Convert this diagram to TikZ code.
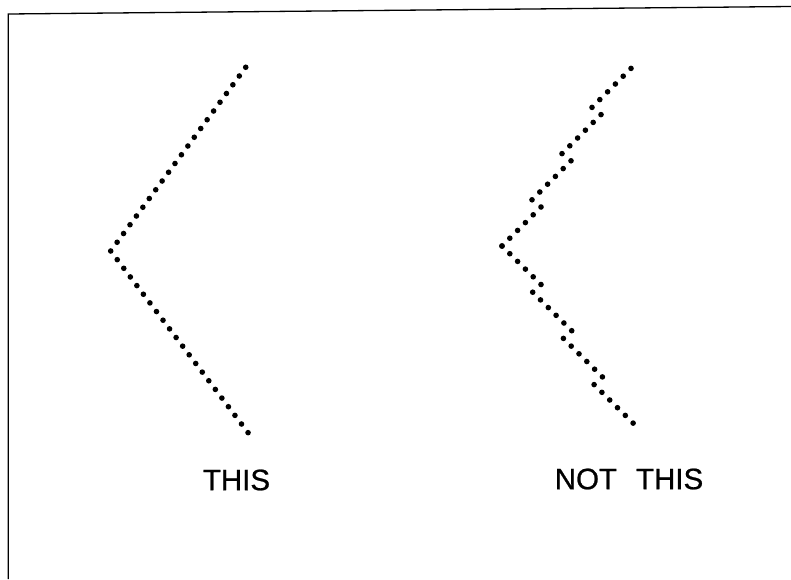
\documentclass[tikz,border=0pt]{standalone}
\usepackage{fontspec}
\setmainfont{Liberation Sans}
\newfontfamily\labelfont[FakeBold=0.8]{Liberation Sans}
\begin{document}
\begin{tikzpicture}[x=1pt,y=-1pt]
		\useasboundingbox (0,0) rectangle (791,579);
		\draw[line width=1.3pt] (8.3,579) -- (8.3,14) -- (791,6.5);
		% straight chevron
		\foreach \i in {0,...,21}{\fill ({110.7+\i*6.43},{251-\i*8.75}) circle (2.8);}
		\foreach \i in {1,...,21}{\fill ({110.7+\i*6.54},{251+\i*8.65}) circle (2.8);}
		% stepped chevron
		\foreach \s in {0,...,3}{\foreach \i in {0,...,5}{\fill ({502+\s*30+\i*7.8},{246-\s*46.2-\i*7.8}) circle (2.8);}}
		\foreach \s in {0,...,3}{\foreach \i in {0,...,5}{\fill ({502+\s*30.7+\i*7.8},{246+\s*46.2+\i*7.7}) circle (2.8);}}
		\node[inner sep=0pt,font=\labelfont\fontsize{29.5}{31}\selectfont] (this) at (236.5,480) {THIS};
		\node[inner sep=0pt,font=\labelfont\fontsize{29.5}{31}\selectfont] (notthis) at (629,479) {NOT\hspace{19pt}THIS};
	\end{tikzpicture}
\end{document}
